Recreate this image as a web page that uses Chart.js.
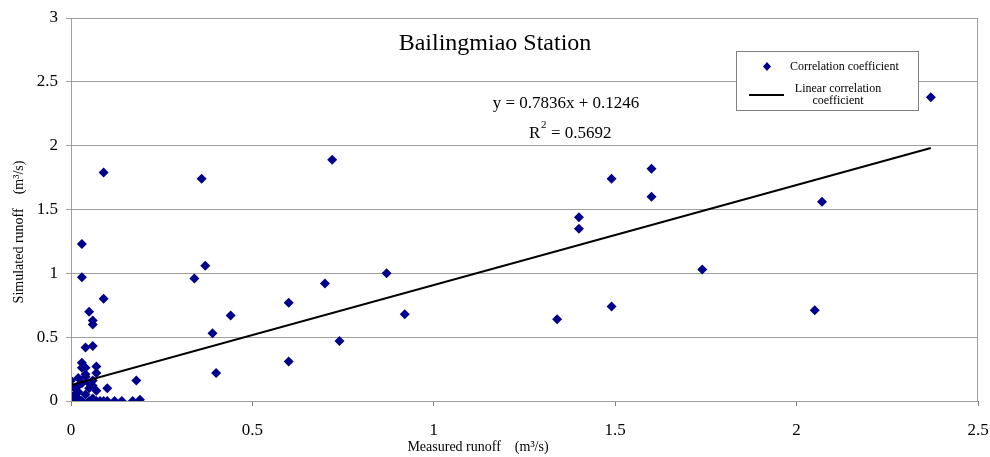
<!DOCTYPE html>
<html>
<head>
<meta charset="utf-8">
<script src="https://cdn.jsdelivr.net/npm/chart.js@4.4.1/dist/chart.umd.min.js"></script>
<style>
  html, body { margin: 0; padding: 0; background: #fff; }
  #wrap { width: 990px; height: 457px; }
</style>
</head>
<body>
<div id="wrap"><canvas id="chart" width="990" height="457"></canvas></div>
<script>
// Bailingmiao Station — measured vs simulated runoff

const measured = [
  0.34, 0.36, 0.37, 0.39, 0.40, 0.44, 0.60, 0.60, 0.70, 0.72, 0.74, 0.87,
  0.92, 1.34, 1.40, 1.40, 1.49, 1.49, 1.60, 1.60, 1.74, 2.05, 2.07, 2.37,
  0.09, 0.03, 0.03, 0.09, 0.05, 0.06, 0.06, 0.04, 0.06, 0.03, 0.03, 0.07,
  0.07, 0.04, 0.00, 0.18, 0.10, 0.07, 0.04, 0.02, 0.05, 0.01, 0.02, 0.00,
  0.01, 0.03, 0.04, 0.05, 0.06, 0.07, 0.08, 0.09, 0.10, 0.12, 0.14, 0.17,
  0.19, 0.02, 0.03, 0.05, 0.06, 0.00, 0.01, 0.04, 0.02, 0.06
];
const simulated = [
  0.96, 1.74, 1.06, 0.53, 0.22, 0.67, 0.77, 0.31, 0.92, 1.89, 0.47, 1.00,
  0.68, 0.64, 1.44, 1.35, 1.74, 0.74, 1.82, 1.60, 1.03, 0.71, 1.56, 2.38,
  1.79, 1.23, 0.97, 0.80, 0.70, 0.63, 0.60, 0.42, 0.43, 0.30, 0.26, 0.27,
  0.22, 0.26, 0.16, 0.16, 0.10, 0.08, 0.19, 0.12, 0.14, 0.05, 0.02, 0.00,
  0.01, 0.00, 0.05, 0.00, 0.02, 0.00, 0.00, 0.00, 0.00, 0.00, 0.00, 0.00,
  0.01, 0.07, 0.14, 0.10, 0.12, 0.03, 0.10, 0.21, 0.18, 0.16
];

// trend line endpoints (y = 0.7836x + 0.1246, drawn over the data range)
const trendX = [0, 2.37];
const trendY = [0.125, 1.982];

const xTicks = [0, 0.5, 1, 1.5, 2, 2.5];
const yTicks = [0, 0.5, 1, 1.5, 2, 2.5, 3];

const titleText = 'Bailingmiao Station';
const equationText = 'y = 0.7836x + 0.1246';
const r2Text = '= 0.5692';
const xTitle = 'Measured runoff\u2003(m\u00b3/s)';
const yTitle = 'Simulated runoff\u2003(m\u00b3/s)';
const legendPoints = 'Correlation coefficient';
const legendLine = ['Linear correlation', 'coefficient'];

const SERIF = '"Liberation Serif", "Times New Roman", serif';
const NAVY = '#00008b';

const overlay = {
  id: 'overlay',
  afterDraw(chart) {
    const { ctx, chartArea: a } = chart;
    ctx.save();

    // plot border
    ctx.strokeStyle = '#a0a0a0';
    ctx.lineWidth = 1;
    ctx.strokeRect(a.left + 0.5, a.top + 0.5, a.right - a.left - 1, a.bottom - a.top);

    ctx.fillStyle = '#000';
    ctx.textBaseline = 'middle';

    // title
    ctx.textAlign = 'center';
    ctx.font = '24px ' + SERIF;
    ctx.fillText(titleText, 495, 44);

    // equation
    ctx.font = '17px ' + SERIF;
    ctx.fillText(equationText, 566, 104);
    ctx.textAlign = 'left';
    ctx.fillText('R', 529, 134);
    ctx.font = '11px ' + SERIF;
    ctx.fillText('2', 541, 125);
    ctx.font = '17px ' + SERIF;
    ctx.fillText(r2Text, 551, 134);

    // legend box
    ctx.fillStyle = '#fff';
    ctx.fillRect(736, 51, 182, 59);
    ctx.strokeStyle = '#808080';
    ctx.strokeRect(736.5, 51.5, 182, 59);
    ctx.fillStyle = NAVY;
    ctx.beginPath();
    ctx.moveTo(767, 62); ctx.lineTo(771, 66.5); ctx.lineTo(767, 71); ctx.lineTo(763, 66.5);
    ctx.closePath();
    ctx.fill();
    ctx.strokeStyle = '#000';
    ctx.lineWidth = 2;
    ctx.beginPath();
    ctx.moveTo(749, 95); ctx.lineTo(784, 95);
    ctx.stroke();
    ctx.fillStyle = '#000';
    ctx.font = '12px ' + SERIF;
    ctx.textAlign = 'left';
    ctx.fillText(legendPoints, 790, 67);
    ctx.textAlign = 'center';
    ctx.fillText(legendLine[0], 838, 89);
    ctx.fillText(legendLine[1], 838, 101);

    // axis titles
    ctx.font = '14px ' + SERIF;
    ctx.fillText(xTitle, 478, 447);
    ctx.translate(19, 232);
    ctx.rotate(-Math.PI / 2);
    ctx.fillText(yTitle, 0, 0);

    ctx.restore();
  }
};

new Chart(document.getElementById('chart'), {
  data: {
    datasets: [
      {
        type: 'line',
        label: 'Linear correlation coefficient',
        data: trendX.map((x, i) => ({ x, y: trendY[i] })),
        borderColor: '#000',
        borderWidth: 2,
        pointRadius: 0,
        fill: false,
        order: 1,
      },
      {
        type: 'scatter',
        label: 'Correlation coefficient',
        data: measured.map((x, i) => ({ x, y: simulated[i] })),
        pointStyle: 'rectRot',
        pointRadius: 5,
        backgroundColor: NAVY,
        borderColor: NAVY,
        borderWidth: 0,
        order: 2,
      },
    ],
  },
  options: {
    responsive: false,
    devicePixelRatio: 1,
    animation: false,
    layout: { padding: { top: 18, right: 12, left: 0, bottom: 0 } },
    plugins: {
      legend: { display: false },
      tooltip: { enabled: false },
    },
    scales: {
      x: {
        type: 'linear',
        min: 0,
        max: 2.5,
        afterFit: (s) => { s.height = 56; s.paddingLeft = 0; s.paddingRight = 0; },
        afterBuildTicks: (s) => { s.ticks = xTicks.map((v) => ({ value: v })); },
        ticks: {
          color: '#000',
          font: { family: SERIF, size: 17 },
          padding: 14,
          maxRotation: 0,
          callback: (v) => String(v),
        },
        grid: { drawOnChartArea: false, drawTicks: true, tickLength: 5, color: '#808080' },
        border: { color: '#808080' },
      },
      y: {
        type: 'linear',
        min: 0,
        max: 3,
        afterFit: (s) => { s.width = 71; s.paddingTop = 0; s.paddingBottom = 0; },
        afterBuildTicks: (s) => { s.ticks = yTicks.map((v) => ({ value: v })); },
        ticks: {
          color: '#000',
          font: { family: SERIF, size: 17 },
          padding: 8,
          callback: (v) => String(v),
        },
        grid: { color: '#a0a0a0', lineWidth: 1, tickLength: 5 },
        border: { color: '#808080' },
      },
    },
  },
  plugins: [overlay],
});
</script>
</body>
</html>
